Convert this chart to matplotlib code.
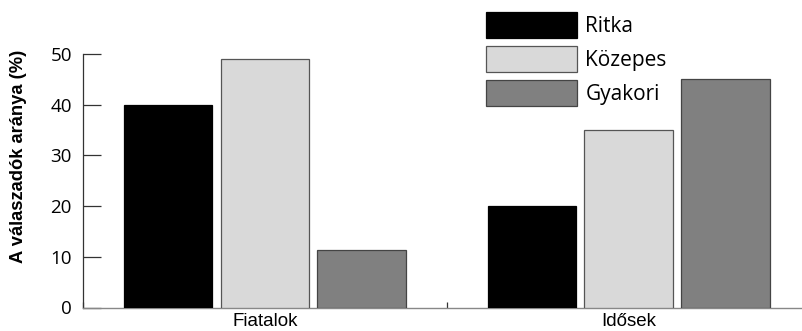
import matplotlib
matplotlib.use("Agg")
import matplotlib.pyplot as plt
import numpy as np

groups = ["Fiatalok", "Idősek"]
series = ["Ritka", "Közepes", "Gyakori"]
ritka = [40, 20]
kozepes = [49, 35]
gyakori = [11.3, 45]
y_ticks = [0, 10, 20, 30, 40, 50]
ylabel = "A válaszadók aránya (%)"

values = [ritka, kozepes, gyakori]
fills = ["#000000", "#d9d9d9", "#808080"]
edges = ["#000000", "#555555", "#444444"]

W, H = 803, 331
fig = plt.figure(figsize=(W / 100, H / 100), dpi=100)
ax = fig.add_axes([83 / W, 23.5 / H, 727.5 / W, 253.5 / H])

x = np.arange(len(groups))
offsets = [-0.266, 0.0, 0.266]
width = 0.243
handles = []
for vals, off, fc, ec, name in zip(values, offsets, fills, edges, series):
    b = ax.bar(x + off, vals, width=width, color=fc, edgecolor=ec, linewidth=0.9, label=name, zorder=3)
    handles.append(b)

ax.set_xlim(-0.5, 1.5)
ax.set_ylim(0, 50)
ax.set_yticks(y_ticks)
ax.set_yticklabels([str(t) for t in y_ticks], fontfamily="Open Sans", fontsize=13.5)
ax.tick_params(axis="y", direction="in", length=13, width=0.9, color="#333333", pad=8)
ax.set_xticks(x)
ax.set_xticklabels(groups, fontfamily="Liberation Sans", fontsize=13.5)
ax.tick_params(axis="x", which="major", length=0, pad=4)
ax.set_xticks([-0.5, 0.5, 1.5], minor=True)
ax.tick_params(axis="x", which="minor", direction="in", length=4.5, width=0.9, color="#333333")

for s in ["top", "right"]:
    ax.spines[s].set_visible(False)
ax.spines["left"].set_color("#333333")
ax.spines["left"].set_linewidth(0.9)
ax.spines["bottom"].set_color("#888888")
ax.spines["bottom"].set_linewidth(1.0)

fig.text(19 / W, 1 - 156.5 / H, ylabel, rotation=90, ha="center", va="center",
         fontfamily="Liberation Sans", fontweight="bold", fontsize=13.2)

fs = 15
fpx = fs * 100 / 72
fig.legend(handles=handles, labels=series, loc="upper left",
           bbox_to_anchor=(486 / W, 1 - 12 / H), frameon=False, borderpad=0, borderaxespad=0,
           handlelength=91 / fpx, handleheight=1.51, handletextpad=8.5 / fpx,
           labelspacing=0.41, prop={"family": "Open Sans", "size": fs})

fig.savefig("out.png", dpi=100)
